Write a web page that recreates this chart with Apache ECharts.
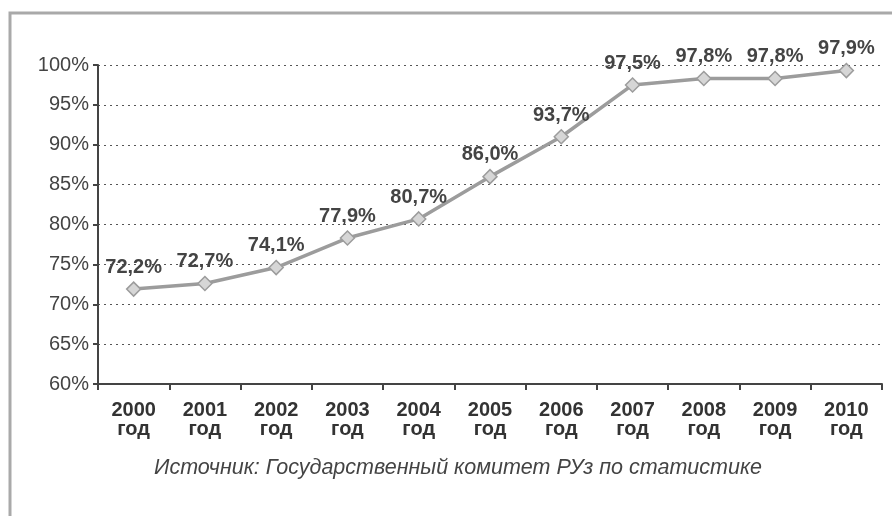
<!DOCTYPE html>
<html>
<head>
<meta charset="utf-8">
<script src="https://cdn.jsdelivr.net/npm/echarts@6/dist/echarts.min.js"></script>
<style>
  html, body { margin: 0; padding: 0; background: #fff; }
  #chart { width: 892px; height: 516px; }
</style>
</head>
<body>
<div id="chart"></div>
<script>
// годы по оси X
const years = ['2000', '2001', '2002', '2003', '2004', '2005', '2006', '2007', '2008', '2009', '2010']
// положение точек на графике (как нарисовано)
const plotted = [71.9, 72.6, 74.6, 78.3, 80.7, 86.0, 91.0, 97.5, 98.3, 98.3, 99.3]
// подписи над точками
const pointLabels = ['72,2%', '72,7%', '74,1%', '77,9%', '80,7%', '86,0%', '93,7%', '97,5%', '97,8%', '97,8%', '97,9%']
const sourceText = 'Источник: Государственный комитет РУз по статистике'

const myChart = echarts.init(document.getElementById('chart'))
const font = 'Liberation Sans, Arial, sans-serif'

const option = {
    animation: false,
    backgroundColor: '#fff',
    textStyle: { fontFamily: font },
    graphic: [
        {
            type: 'rect',
            shape: { x: 10, y: 13, width: 900, height: 520 },
            style: { fill: 'none', stroke: '#a9a9a9', lineWidth: 3 }
        },
        {
            type: 'text',
            x: 458,
            y: 468,
            style: {
                text: sourceText,
                font: 'italic 21.5px ' + font,
                fill: '#444',
                align: 'center',
                verticalAlign: 'middle'
            }
        }
    ],
    grid: { left: 98, right: 10, top: 65, bottom: 132 },
    xAxis: {
        type: 'category',
        data: years,
        boundaryGap: true,
        axisLine: { lineStyle: { color: '#444', width: 2 } },
        axisTick: { show: true, length: 6, inside: false, lineStyle: { color: '#444', width: 2 } },
        axisLabel: {
            color: '#333',
            fontWeight: 'bold',
            fontSize: 20,
            lineHeight: 19,
            margin: 17,
            formatter: (v) => v + '\nгод'
        }
    },
    yAxis: {
        type: 'value',
        min: 60,
        max: 100,
        interval: 5,
        axisLine: { show: true, lineStyle: { color: '#444', width: 2 } },
        axisTick: { show: true, length: 5, lineStyle: { color: '#444', width: 2 } },
        axisLabel: { color: '#444', fontSize: 20, margin: 9, formatter: '{value}%' },
        splitLine: { show: true, lineStyle: { color: '#555', type: [2, 4], width: 1 } }
    },
    series: [
        {
            type: 'line',
            data: plotted,
            symbol: 'diamond',
            symbolSize: 14,
            lineStyle: { color: '#9c9c9c', width: 3.5 },
            itemStyle: { color: '#d6d6d6', borderColor: '#9c9c9c', borderWidth: 1.5 },
            label: {
                show: true,
                position: 'top',
                distance: 4,
                color: '#444',
                fontWeight: 'bold',
                fontSize: 20,
                formatter: (p) => pointLabels[p.dataIndex]
            }
        }
    ]
}
myChart.setOption(option)
</script>
</body>
</html>
